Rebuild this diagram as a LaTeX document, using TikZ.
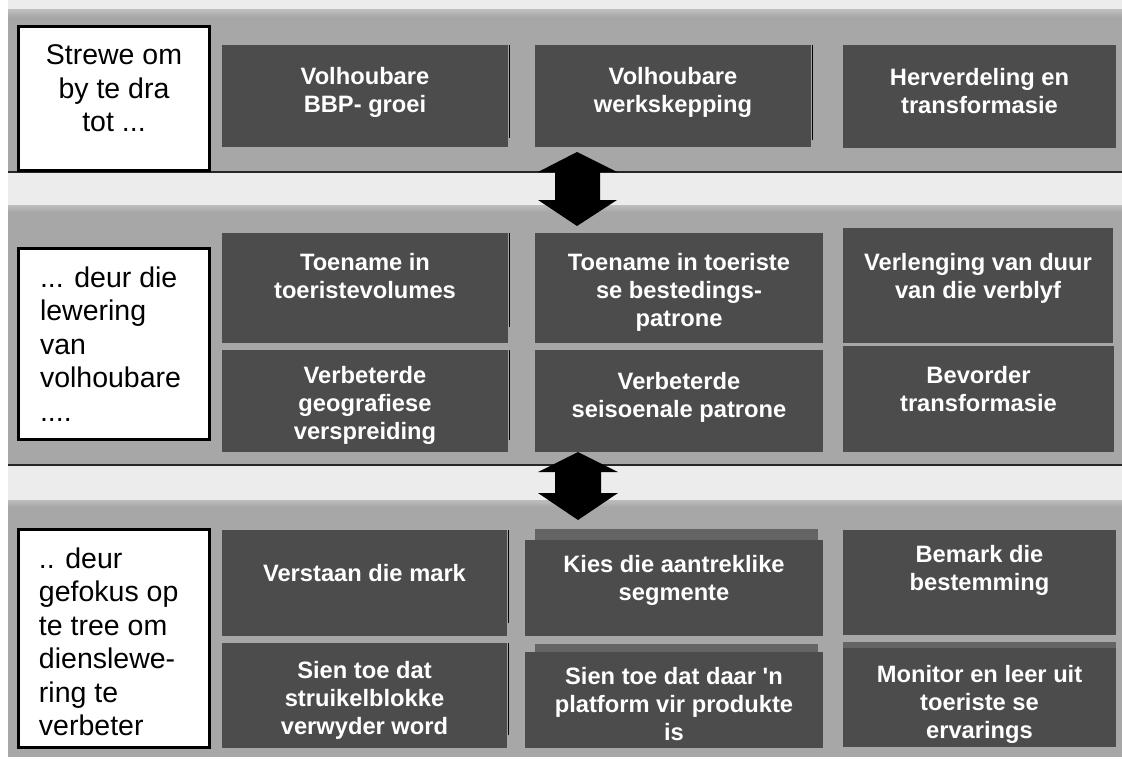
\documentclass[tikz,border=0pt]{standalone}
\usepackage{fontspec}
\setmainfont{Liberation Sans}[Ligatures=TeXOff]
\definecolor{bandgrey}{HTML}{A7A7A7}
\definecolor{bandlight}{HTML}{BDBDBD}
\definecolor{boxgrey}{HTML}{4C4C4C}
\definecolor{boxshade}{HTML}{646464}
\definecolor{strip}{HTML}{ECECEC}
\tikzset{
  dbox/.style={fill=boxgrey, inner sep=0pt, outer sep=0pt, text=white, anchor=north west,
    font=\bfseries\fontsize{23.7pt}{28pt}\selectfont},
  wbox/.style={fill=white, draw=black, line width=3pt, inner sep=0pt, outer sep=0pt, anchor=north west,
    font=\fontsize{28.5pt}{33.5pt}\selectfont},
  sepline/.style={draw=black!85, line width=1.6pt},
  shadowline/.style={draw=black, line width=1.6pt},
  shadestrip/.style={fill=boxshade},
  twoway/.style={fill=black},
}
\newcommand{\DBox}[7]{%
  \pgfmathsetlengthmacro\bw{#4-#2}%
  \pgfmathsetlengthmacro\bh{#5-#3}%
  \node[dbox] (#1) at (#2,#3) {\parbox[c][\bh][t]{\bw}{\centering\rule{0pt}{#6pt}#7\par}};}
\begin{document}
\begin{tikzpicture}[x=1pt,y=-1pt]
\useasboundingbox (0,0) rectangle (1122,760);
\fill[white] (0,0) rectangle (1122,760);
\fill[strip] (8,0) rectangle (1122,10);
% band 1
\fill[bandgrey] (8,10) rectangle (1122,172);
\shade[top color=bandlight, bottom color=bandgrey] (8,10) rectangle (1122,17);
\fill[strip] (8,172) rectangle (1122,205);
% band 2
\fill[bandgrey] (8,205) rectangle (1122,465);
\shade[top color=bandlight, bottom color=bandgrey] (8,205) rectangle (1122,212);
\fill[strip] (8,465) rectangle (1122,500);
% band 3
\fill[bandgrey] (8,500) rectangle (1122,757);
\shade[top color=bandlight, bottom color=bandgrey] (8,500) rectangle (1122,507);
\draw[sepline] (8,172) -- (1122,172);
\draw[sepline] (8,465) -- (1122,465);

% white label boxes
\node[wbox] (w1) at (18.5,26.5) {\parbox[c][144pt][t]{191pt}{\centering\rule{0pt}{38.5pt}Strewe om\\by te dra\\tot ...\par}};
\node[wbox] (w2) at (18.5,248.5) {\parbox[c][191pt][t]{191pt}{\raggedright\leftskip=21.5pt\rule{0pt}{38.5pt}... deur die\\lewering\\van\\volhoubare\\....\par}};
\node[wbox] (w3) at (18.5,529.5) {\parbox[c][218pt][t]{191pt}{\raggedright\leftskip=20.5pt\rule{0pt}{38.5pt}.. deur\\gefokus op\\te tree om\\dienslewe-\\ring te\\verbeter\par}};

% shadow edges and shaded strips behind the boxes
\draw[shadowline] (509.5,45) -- (509.5,138);
\draw[shadowline] (812.5,45) -- (812.5,140);
\draw[shadowline] (509.5,233) -- (509.5,327);
\draw[shadowline] (509.5,350) -- (509.5,440);
\draw[shadowline] (508.5,530) -- (508.5,623);
\draw[shadowline] (508.5,643) -- (508.5,735);
\fill[shadestrip] (535,529) rectangle (818,540);
\fill[shadestrip] (535,644) rectangle (818,652);
\fill[shadestrip] (843,642) rectangle (1116,648);

% band 1 boxes
\DBox{b11}{222}{45}{508}{147}{40}{Volhoubare\\BBP- groei}
\DBox{b12}{535}{45}{811}{147}{40}{Volhoubare\\werkskepping}
\DBox{b13}{843}{45}{1116}{148}{40}{Herverdeling en\\transformasie}
% band 2 boxes
\DBox{b21}{222}{233}{508}{343}{37}{Toename in\\toeristevolumes}
\DBox{b22}{535}{233}{823}{343}{37}{Toename in toeriste\\se bestedings-\\patrone}
\DBox{b23}{843}{228}{1113}{343}{42}{Verlenging van duur\\van die verblyf}
\DBox{b24}{222}{350}{508}{452}{33}{Verbeterde\\geografiese\\verspreiding}
\DBox{b25}{535}{350}{823}{452}{39}{Verbeterde\\seisoenale patrone}
\DBox{b26}{843}{346}{1114}{452}{37}{Bevorder\\transformasie}
% band 3 boxes
\DBox{b31}{222}{530}{507}{636}{51}{Verstaan die mark}
\DBox{b32}{525}{540}{823}{636}{32}{Kies die aantreklike\\segmente}
\DBox{b33}{843}{530}{1116}{635}{32}{Bemark die\\bestemming}
\DBox{b34}{222}{643}{507}{748}{35}{Sien toe dat\\struikelblokke\\verwyder word}
\DBox{b35}{525}{652}{823}{748}{32}{Sien toe dat daar 'n\\platform vir produkte\\is}
\DBox{b36}{843}{648}{1116}{747}{34}{Monitor en leer uit\\toeriste se\\ervarings}

% double arrows between the bands
\fill[twoway] (577,152) -- (617,172) -- (600,172) -- (600,200) -- (617,200) -- (577,226)
  -- (538,200) -- (555,200) -- (555,172) -- (538,172) -- cycle;
\fill[twoway] (578,452) -- (618,472) -- (601,472) -- (601,493) -- (618,493) -- (578,520)
  -- (538,493) -- (555,493) -- (555,472) -- (538,472) -- cycle;
\end{tikzpicture}
\end{document}
